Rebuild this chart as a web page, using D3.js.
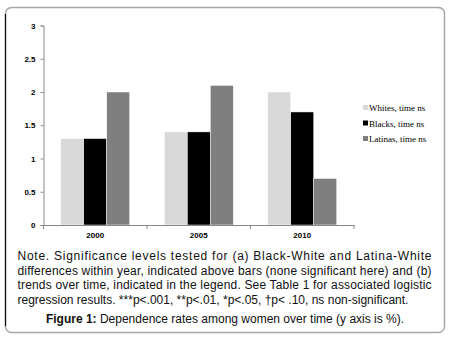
<!DOCTYPE html>
<html>
<head>
<meta charset="utf-8">
<script src="https://cdn.jsdelivr.net/npm/d3@7"></script>
<style>
  body { margin: 0; background: #fff; }
  svg { display: block; }
</style>
</head>
<body>
<div id="chart"></div>
<script>
(function () {

  // data
  const years = ['2000', '2005', '2010']
  const groups = ['Whites, time ns', 'Blacks, time ns', 'Latinas, time ns']
  const whites = [1.3, 1.4, 2.0]
  const blacks = [1.3, 1.4, 1.7]
  const latinas = [2.0, 2.1, 0.7]
  const yTicks = [0, 0.5, 1, 1.5, 2, 2.5, 3]
  const colors = ['#d9d9d9', '#000000', '#7f7f7f']

  const noteLines = [
    'Note. Significance levels tested for (a) Black-White and Latina-White',
    'differences within year, indicated above bars (none significant here) and (b)',
    'trends over time, indicated in the legend. See Table 1 for associated logistic',
    'regression results. ***p<.001, **p<.01, *p<.05, \u2020p< .10, ns non-significant.'
  ]

  const W = 450, H = 338

  const svg = d3.select('#chart').append('svg')
    .attr('width', W)
    .attr('height', H)

  // outer rounded frame
  svg.append('rect')
    .attr('x', 5.5).attr('y', 7.5)
    .attr('width', 439).attr('height', 325)
    .attr('rx', 6)
    .attr('fill', 'none')
    .attr('stroke', '#a6a6a6')
    .attr('stroke-width', 1.5)
  svg.append('path')
    .attr('d', 'M5.5,14 V326')
    .attr('stroke', '#111')
    .attr('stroke-width', 1.2)

  const plot = { left: 43.5, right: 354, top: 25.5, bottom: 225 }

  const x0 = d3.scaleBand()
    .domain(years)
    .range([plot.left, plot.right])
    .padding(0)

  const x1 = d3.scaleBand()
    .domain(d3.range(groups.length))
    .range([0, x0.bandwidth()])
    .paddingInner(0)
    .paddingOuter(0.75)

  const y = d3.scaleLinear()
    .domain([0, 3])
    .range([plot.bottom, plot.top])

  const series = [whites, blacks, latinas]

  // bars
  const yearG = svg.selectAll('g.year')
    .data(years)
    .join('g')
    .attr('class', 'year')
    .attr('transform', d => 'translate(' + x0(d) + ',0)')

  yearG.selectAll('rect')
    .data((d, i) => series.map((s, k) => ({ k: k, v: s[i] })))
    .join('rect')
    .attr('x', d => x1(d.k))
    .attr('width', x1.bandwidth())
    .attr('y', d => y(d.v))
    .attr('height', d => y(0) - y(d.v))
    .attr('fill', d => colors[d.k])
    .attr('stroke', '#fff')
    .attr('stroke-width', 0.5)

  // y axis
  const yAxis = d3.axisLeft(y)
    .tickValues(yTicks)
    .tickSize(3)
    .tickPadding(5)
    .tickFormat(d3.format('~g'))
  const ya = svg.append('g')
    .attr('transform', 'translate(' + plot.left + ',0)')
    .call(yAxis)
  ya.select('.domain').attr('stroke', '#888')
  ya.selectAll('.tick line').attr('stroke', '#888')
  ya.selectAll('.tick text')
    .attr('font-family', 'Liberation Sans, Arial, sans-serif')
    .attr('font-size', 8)
    .attr('font-weight', 'bold')
    .attr('fill', '#000')

  // x axis
  const xAxis = d3.axisBottom(x0).tickSize(0).tickPadding(7)
  const xa = svg.append('g')
    .attr('transform', 'translate(0,' + plot.bottom + ')')
    .call(xAxis)
  xa.select('.domain').attr('stroke', '#888')
  xa.selectAll('.tick text')
    .attr('font-family', 'Liberation Sans, Arial, sans-serif')
    .attr('font-size', 8)
    .attr('font-weight', 'bold')
    .attr('fill', '#000')
  // tick marks between categories
  xa.selectAll('line.sep')
    .data(years.map(d => x0(d)).concat([plot.right]))
    .join('line')
    .attr('class', 'sep')
    .attr('x1', d => d).attr('x2', d => d)
    .attr('y1', 0).attr('y2', 4)
    .attr('stroke', '#888')

  // legend
  const legend = svg.append('g')
    .attr('transform', 'translate(363,105)')

  legend.selectAll('rect')
    .data(groups)
    .join('rect')
    .attr('x', 0)
    .attr('y', (d, i) => i * 15.5)
    .attr('width', 5)
    .attr('height', 5)
    .attr('fill', (d, i) => colors[i])

  legend.selectAll('text')
    .data(groups)
    .join('text')
    .attr('x', 6)
    .attr('y', (d, i) => i * 15.5)
    .attr('dy', 6)
    .attr('font-family', 'Liberation Serif, Times New Roman, serif')
    .attr('font-size', 9)
    .attr('fill', '#000')
    .text(d => d)

  // note under the chart, justified lines
  svg.selectAll('text.note')
    .data(noteLines)
    .join('text')
    .attr('class', 'note')
    .attr('x', 17.5)
    .attr('y', (d, i) => 260 + i * 14.7)
    .attr('font-family', 'Liberation Sans, Arial, sans-serif')
    .attr('font-size', 12)
    .attr('fill', '#111')
    .attr('textLength', (d, i) => i < 3 ? 414 : null)
    .attr('lengthAdjust', 'spacing')
    .text(d => d)

  const cap = svg.append('text')
    .attr('x', 225)
    .attr('y', 323)
    .attr('text-anchor', 'middle')
    .attr('font-family', 'Liberation Sans, Arial, sans-serif')
    .attr('font-size', 12)
    .attr('fill', '#111')
  cap.append('tspan').attr('font-weight', 'bold').text('Figure 1:')
  cap.append('tspan').text(' Dependence rates among women over time (y axis is %).')

})();
</script>
</body>
</html>
